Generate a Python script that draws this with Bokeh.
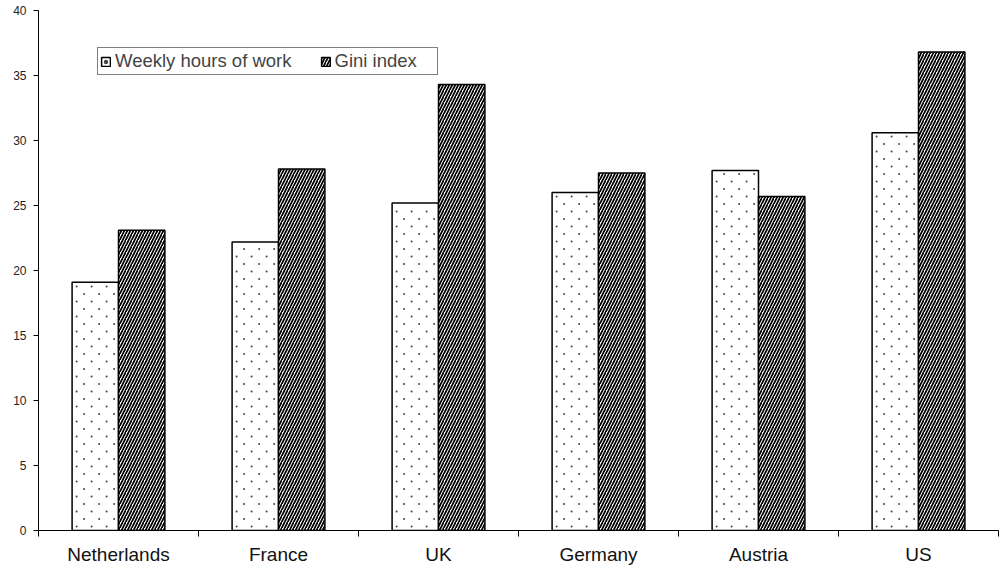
import numpy as np
from bokeh.plotting import figure
from bokeh.models import (ColumnDataSource, Range1d, FixedTicker, Legend, LegendItem)
from bokeh.embed import file_html
from bokeh.resources import INLINE

countries = ["Netherlands", "France", "UK", "Germany", "Austria", "US"]
weekly_hours = [19.1, 22.2, 25.2, 26.0, 27.7, 30.6]
gini_index = [23.1, 27.8, 34.3, 27.5, 25.7, 36.8]
y_ticks = [0, 5, 10, 15, 20, 25, 30, 35, 40]

Y_MAX = 40
FRAME_W, FRAME_H = 960, 520
BAR_W = 0.29
centers = [i + 0.5 for i in range(len(countries))]

src = ColumnDataSource(dict(
    x_hours=[c - BAR_W / 2 for c in centers],
    x_gini=[c + BAR_W / 2 for c in centers],
    hours=weekly_hours,
    gini=gini_index,
))

# staggered dot fill for the hours bars, generated inside each bar's extent
ux = len(countries) / FRAME_W      # data units per pixel, x
uy = Y_MAX / FRAME_H               # data units per pixel, y
step_x, step_y = 15 * ux, 7.5 * uy
dot_x, dot_y = [], []
for c, h in zip(centers, weekly_hours):
    left, right = c - BAR_W, c
    row = 0
    y = 4 * uy
    while y < h - 2 * uy:
        x = left + (4.5 if row % 2 == 0 else 12) * ux
        while x < right - 2 * ux:
            dot_x.append(x)
            dot_y.append(y)
            x += step_x
        y += step_y
        row += 1
dots = ColumnDataSource(dict(x=dot_x, y=dot_y))

p = figure(width=1000, height=568, output_backend="svg", toolbar_location=None,
           x_range=Range1d(0, len(countries)), y_range=Range1d(0, Y_MAX),
           min_border_left=38, min_border_right=2, min_border_top=10,
           min_border_bottom=38)
p.outline_line_color = None
p.background_fill_color = "white"

r_hours = p.vbar(x="x_hours", top="hours", width=BAR_W, source=src,
                 fill_color="white", line_color="black", line_width=1.5)
r_dots = p.scatter(x="x", y="y", source=dots, marker="circle", size=2,
                   fill_color="#444444", line_color=None)
r_gini = p.vbar(x="x_gini", top="gini", width=BAR_W, source=src,
                fill_color="white", line_color="black", line_width=1.5,
                hatch_pattern="/", hatch_scale=6, hatch_weight=1.7,
                hatch_color="black")

# y axis
p.yaxis.ticker = FixedTicker(ticks=y_ticks)
p.yaxis.axis_line_color = "black"
p.yaxis.major_tick_in = 0
p.yaxis.major_tick_out = 5
p.yaxis.minor_tick_line_color = None
p.yaxis.major_label_standoff = 7
p.yaxis.major_label_text_font = "Liberation Sans"
p.yaxis.major_label_text_font_size = "12px"
p.yaxis.major_label_text_color = "#222222"

# x axis: labels at group centres, tick marks at group boundaries
p.xaxis.ticker = FixedTicker(ticks=centers,
                             minor_ticks=list(range(len(countries) + 1)))
p.xaxis.major_label_overrides = {c: n for c, n in zip(centers, countries)}
p.xaxis.major_tick_in = 0
p.xaxis.major_tick_out = 0
p.xaxis.minor_tick_in = 0
p.xaxis.minor_tick_out = 6
p.xaxis.minor_tick_line_color = "black"
p.xaxis.axis_line_color = "black"
p.xaxis.major_label_standoff = 7
p.xaxis.major_label_text_font = "Liberation Sans"
p.xaxis.major_label_text_font_size = "19px"
p.xaxis.major_label_text_color = "#111111"

p.xgrid.grid_line_color = None
p.ygrid.ticker = FixedTicker(ticks=[Y_MAX])
p.ygrid.grid_line_color = "#999999"
p.ygrid.grid_line_width = 2

legend = Legend(items=[LegendItem(label="Weekly hours of work", renderers=[r_hours, r_dots]),
                       LegendItem(label="Gini index", renderers=[r_gini])],
                orientation="horizontal", location=(59, 455))
legend.border_line_color = "black"
legend.border_line_width = 1
legend.label_text_font = "Liberation Sans"
legend.label_text_font_size = "18.5px"
legend.glyph_width = 11
legend.glyph_height = 11
legend.label_standoff = 4
legend.label_width = 100
legend.spacing = 28
legend.padding = 2
legend.margin = 0
legend.label_height = 16
p.add_layout(legend, "center")

open("out.html", "w").write(file_html(p, INLINE))
